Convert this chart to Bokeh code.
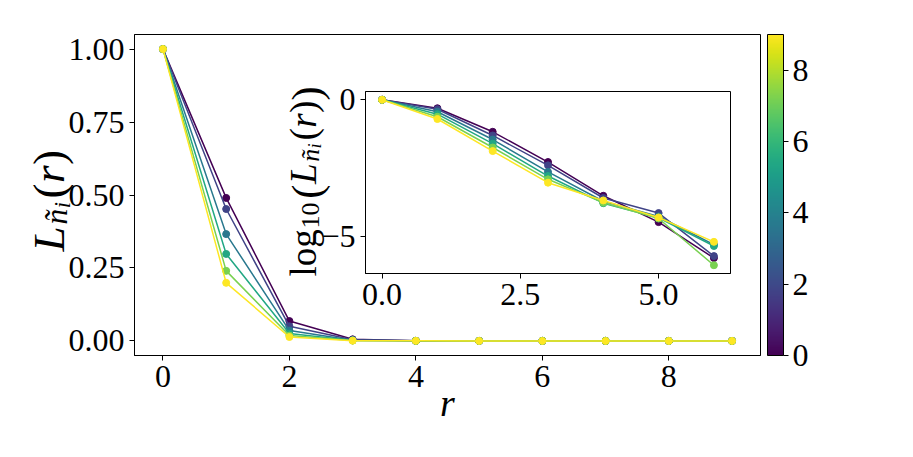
import math
import numpy as np
from bokeh.plotting import figure
from bokeh.models import (Range1d, FixedTicker, PrintfTickFormatter, ColorBar,
                          LinearColorMapper, Label)
from bokeh.palettes import Viridis256
from bokeh.embed import file_html
from bokeh.resources import INLINE

# ---------------- data ----------------
r = [0, 1, 2, 3, 4, 5, 6, 7, 8, 9]
color_values = [0.0, 1.8, 3.6, 5.4, 7.2, 9.0]
L_s0 = [1.0, 0.490, 0.068, 0.00537, 3.16e-4, 3.47e-5, 1.70e-6, 0.0, 0.0, 0.0]
L_s1 = [1.0, 0.452, 0.050, 0.00407, 2.63e-4, 7.41e-5, 2.00e-6, 0.0, 0.0, 0.0]
L_s2 = [1.0, 0.366, 0.0355, 0.00234, 2.00e-4, 5.62e-5, 5.25e-6, 0.0, 0.0, 0.0]
L_s3 = [1.0, 0.298, 0.0251, 0.00166, 1.70e-4, 5.01e-5, 4.68e-6, 0.0, 0.0, 0.0]
L_s4 = [1.0, 0.240, 0.0182, 0.00126, 1.78e-4, 4.68e-5, 9.30e-7, 0.0, 0.0, 0.0]
L_s5 = [1.0, 0.199, 0.0135, 0.00095, 2.14e-4, 5.13e-5, 6.61e-6, 0.0, 0.0, 0.0]
series = [L_s0, L_s1, L_s2, L_s3, L_s4, L_s5]
inset_r = [0, 1, 2, 3, 4, 5, 6]
main_xticks = [0, 2, 4, 6, 8]
main_yticks = [0.0, 0.25, 0.5, 0.75, 1.0]
inset_xticks = [0.0, 2.5, 5.0]
inset_yticks = [-5, 0]
cbar_ticks = [0, 2, 4, 6, 8]
cmin, cmax = 0, 9

FONT = "Liberation Serif"
TICK = "32px"
W, H = 913, 457

def vcolor(v):
    return Viridis256[int(round((v - cmin) / (cmax - cmin) * 255))]

colors = [vcolor(v) for v in color_values]

def style_axes(fig):
    fig.grid.visible = False
    fig.outline_line_color = "black"
    fig.outline_line_width = 1
    for ax in fig.axis:
        ax.axis_line_color = "black"
        ax.axis_line_width = 1
        ax.major_tick_line_color = "black"
        ax.major_tick_line_width = 1
        ax.major_tick_out = 5
        ax.major_tick_in = 0
        ax.minor_tick_out = 0
        ax.minor_tick_in = 0
        ax.major_label_text_font = FONT
        ax.major_label_text_font_size = TICK
        ax.major_label_text_color = "black"
        ax.major_label_standoff = 5

# ---------------- main figure ----------------
ML, MR, MT, MB = 134, 153, 34, 102
p = figure(width=W, height=H, x_range=Range1d(-0.45, 9.45), y_range=Range1d(-0.05, 1.05),
           output_backend="svg", toolbar_location=None,
           min_border_left=ML, min_border_right=MR, min_border_top=MT, min_border_bottom=MB)
p.background_fill_color = "white"
p.border_fill_color = "white"
style_axes(p)
p.xaxis.ticker = FixedTicker(ticks=main_xticks)
p.yaxis.ticker = FixedTicker(ticks=main_yticks)
p.yaxis.formatter = PrintfTickFormatter(format="%.2f")

for vals, c in zip(series, colors):
    p.line(r, vals, line_color=c, line_width=1.5)
    p.scatter(r, vals, size=7, fill_color=c, line_color=c)

mapper = LinearColorMapper(palette=Viridis256, low=cmin, high=cmax)
cb = ColorBar(color_mapper=mapper, ticker=FixedTicker(ticks=cbar_ticks), width=16, height=321,
              padding=0, margin=0, location=(7, 0), bar_line_color="black", bar_line_width=1,
              major_tick_out=5, major_tick_in=0, major_tick_line_color="black",
              minor_tick_line_color=None, label_standoff=4,
              major_label_text_font=FONT, major_label_text_font_size=TICK,
              major_label_text_color="black", background_fill_alpha=0)
p.add_layout(cb, "right")

# ---------------- inset ----------------
logs = [[math.log10(v) for v in vals[:len(inset_r)]] for vals in series]
lo = min(min(l) for l in logs)
hi = max(max(l) for l in logs)
span = hi - lo
IL, IR, IT, IB = 365, 183, 91, 184
ins = figure(width=W, height=H, x_range=Range1d(-0.3, 6.3),
             y_range=Range1d(lo - 0.05 * span, hi + 0.05 * span),
             output_backend="svg", toolbar_location=None,
             min_border_left=IL, min_border_right=IR, min_border_top=IT, min_border_bottom=IB)
ins.border_fill_color = None
ins.border_fill_alpha = 0
ins.background_fill_color = "white"
ins.styles = {"position": "absolute", "left": "0px", "top": "0px"}
style_axes(ins)
ins.xaxis.ticker = FixedTicker(ticks=inset_xticks)
ins.xaxis.formatter = PrintfTickFormatter(format="%.1f")
ins.yaxis.ticker = FixedTicker(ticks=inset_yticks)
ins.yaxis.major_label_overrides = {-5: "\u22125", 0: "0"}

for lv, c in zip(logs, colors):
    ins.line(inset_r, lv, line_color=c, line_width=1.5)
    ins.scatter(inset_r, lv, size=7, fill_color=c, line_color=c)

# ---------------- text overlay (axis titles) ----------------
txt = figure(width=W, height=H, x_range=Range1d(0, W), y_range=Range1d(H, 0),
             x_axis_type=None, y_axis_type=None, min_border=0,
             output_backend="svg", toolbar_location=None)
txt.outline_line_color = None
txt.background_fill_color = None
txt.background_fill_alpha = 0
txt.border_fill_color = None
txt.border_fill_alpha = 0
txt.grid.visible = False
txt.styles = {"position": "absolute", "left": "0px", "top": "0px", "pointer-events": "none"}

def vlabel(base_x, start_y, pieces):
    y = start_y
    for text, size, italic, shift, adv in pieces:
        txt.add_layout(Label(x=base_x + shift, y=y, text=text, angle=math.pi / 2,
                             text_align="left", text_baseline="alphabetic", text_font=FONT,
                             text_font_size=f"{size:.1f}px",
                             text_font_style="italic" if italic else "normal",
                             text_color="black"))
        y -= adv

S = 45
vlabel(48, 251, [
    ("L", S, True, 0, 0.60 * S),
    ("ñ", 0.7 * S, True, 0.18 * S, 0.36 * S),
    ("i", 0.5 * S, True, 0.30 * S, 0.22 * S),
    ("(", S, False, 0, 0.34 * S),
    ("r", S, True, 0, 0.40 * S),
    (")", S, False, 0, 0.34 * S),
])
txt.add_layout(Label(x=447, y=402, text="r", text_align="center", text_baseline="alphabetic",
                     text_font=FONT, text_font_size="38px", text_font_style="italic",
                     text_color="black"))
T = 37
vlabel(303, 276, [
    ("log", T, False, 0, 1.30 * T),
    ("10", 0.7 * T, False, 0.20 * T, 0.80 * T),
    ("(", 1.15 * T, False, 0.08 * T, 0.40 * T),
    ("L", T, True, 0, 0.60 * T),
    ("ñ", 0.7 * T, True, 0.18 * T, 0.36 * T),
    ("i", 0.5 * T, True, 0.30 * T, 0.22 * T),
    ("(", T, False, 0, 0.34 * T),
    ("r", T, True, 0, 0.40 * T),
    (")", T, False, 0, 0.34 * T),
    (")", 1.15 * T, False, 0.08 * T, 0.40 * T),
])

open("out.html", "w").write(file_html([p, ins, txt], INLINE))
